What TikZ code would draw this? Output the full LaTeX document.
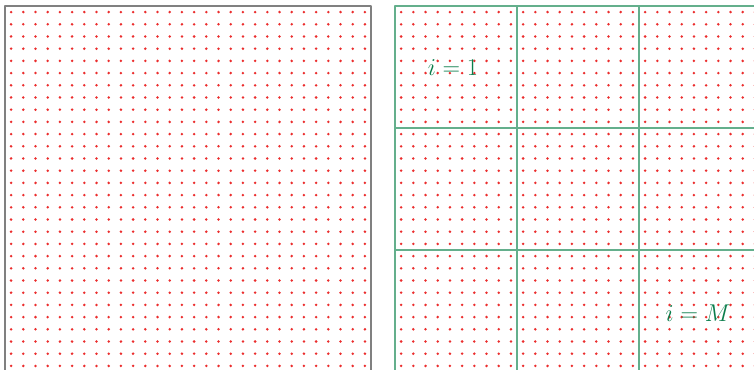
\documentclass[tikz,border=0pt]{standalone}
\usepackage{tikz}
\definecolor{gridgreen}{RGB}{100,175,140}
\definecolor{textgreen}{RGB}{10,125,75}
\definecolor{dotred}{RGB}{235,45,45}
\begin{document}
\begin{tikzpicture}[x=0.03cm,y=-0.03cm,line join=round]
			% 画布大小与裁剪
			\useasboundingbox (0,0) rectangle (754,370);
			\clip (0,0) rectangle (754,370);

			% 两个正方形的左上角
			\coordinate (L) at (5,6);
			\coordinate (R) at (395,6);
			\def\side{366}
			\def\h{12.2}

			% 采样点
			\foreach \i in {0,...,29}{
				\foreach \j in {0,...,29}{
					\fill[dotred] (5+6.1+\i*\h,6+6.1+\j*\h) circle (1.4);
					\fill[dotred] (395+6.1+\i*\h,6+6.1+\j*\h) circle (1.4);
				}
			}

			% 左边整体区域
			\draw[gray,line width=1.2pt] (L) rectangle ++(\side,\side);

			% 右边分块
			\draw[gridgreen,line width=1pt] (R) rectangle ++(\side,\side);
			\foreach \k in {1,2}{
				\draw[gridgreen,line width=1pt] (395+\k*122,6) -- ++(0,\side);
				\draw[gridgreen,line width=1pt] (395,6+\k*122) -- ++(\side,0);
			}

			% 标注
			\node[textgreen,font=\fontsize{20}{22}\selectfont] (first) at (453,68) {$i=1$};
			\node[textgreen,font=\fontsize{20}{22}\selectfont] (last) at (698,313) {$i=M$};
		\end{tikzpicture}
\end{document}
